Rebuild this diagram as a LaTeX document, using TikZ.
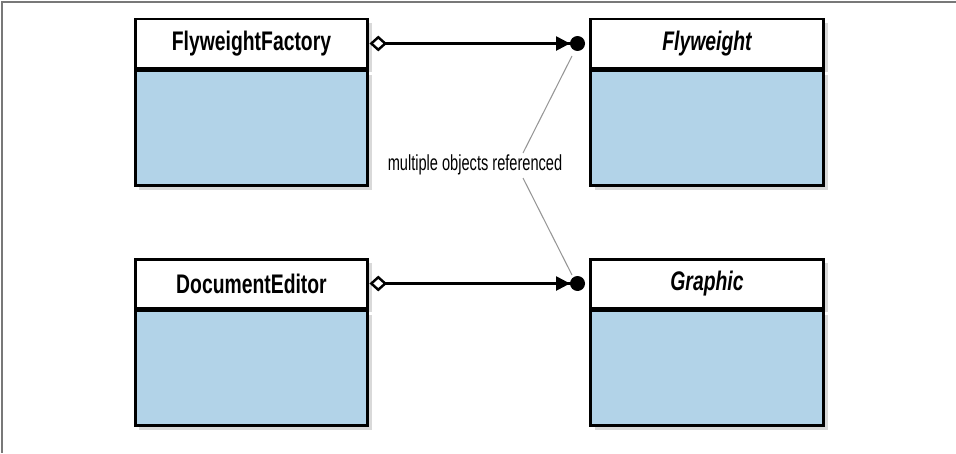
\documentclass[tikz,border=0pt]{standalone}
\definecolor{classblue}{RGB}{178, 211, 232}
\definecolor{refgray}{RGB}{150, 150, 150}
\definecolor{framegray}{RGB}{120, 120, 120}
\usepackage{fontspec}
\newfontfamily\headfont[FakeStretch=0.72]{Liberation Sans}
\newfontfamily\notefont[FakeStretch=0.67]{Liberation Sans}
\usepackage{tikz}
\usetikzlibrary{arrows.meta, positioning, shadows}

\tikzset{
  classhead/.style={draw=black, fill=white, line width=1.7pt, minimum width=4.66cm, minimum height=0.98cm,
    inner sep=0pt, font=\headfont\fontsize{15.3}{17}\selectfont\bfseries,
    drop shadow={shadow xshift=2.5pt, shadow yshift=-2.5pt, opacity=0.3}},
  classbody/.style={draw=black, fill=classblue, line width=1.7pt, minimum width=4.66cm, minimum height=2.3cm,
    inner sep=0pt, drop shadow={shadow xshift=2.5pt, shadow yshift=-2.5pt, opacity=0.3}},
  holds/.style={line width=1.4pt, shorten >=2.3pt,
    {Diamond[open, length=10pt, width=9pt]}-{Triangle[length=8pt, width=8pt]Circle[length=8.5pt]}},
  refline/.style={refgray, line width=0.6pt}
}

\begin{document}
\begin{tikzpicture}[x=0.02cm, y=-0.02cm]
  \useasboundingbox (0,0) rectangle (956,453);

  % frame
  \draw[framegray, line width=0.6pt] (956,2) -- (2,2) -- (2,453);

  % classes, top row
  \node[classhead] (ffhead) at (251.5,43.5) {FlyweightFactory};
  \node[classbody, below=0pt of ffhead] (ffbody) {};
  \node[classhead] (fwhead) at (707,43.5) {\itshape Flyweight};
  \node[classbody, below=0pt of fwhead] (fwbody) {};

  % classes, bottom row
  \node[classhead] (dehead) at (251.5,283.5) {DocumentEditor};
  \node[classbody, below=0pt of dehead] (debody) {};
  \node[classhead] (grhead) at (707,283.5) {\itshape Graphic};
  \node[classbody, below=0pt of grhead] (grbody) {};

  % associations
  \draw[holds] (ffhead) -- (fwhead);
  \draw[holds] (dehead) -- (grhead);

  % note
  \node[font=\notefont\fontsize{12.4}{14}\selectfont] (note) at (475,165) {multiple objects referenced};
  \coordinate (fwpin) at (572,56);
  \coordinate (grpin) at (572,275);
  \coordinate (noteup) at (523,153);
  \coordinate (notedown) at (523,178);
  \draw[refline] (fwpin) -- (noteup);
  \draw[refline] (notedown) -- (grpin);
\end{tikzpicture}
\end{document}
